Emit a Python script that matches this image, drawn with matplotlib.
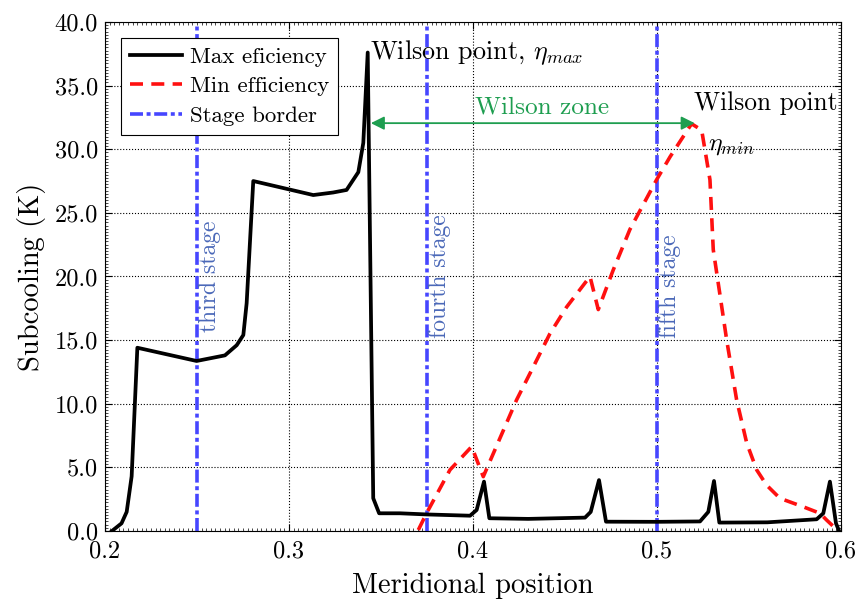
import matplotlib
matplotlib.use("Agg")
import matplotlib.pyplot as plt
from matplotlib.ticker import MultipleLocator, FormatStrFormatter

# ---- data ----
max_x = [0.2038, 0.2090, 0.2118, 0.2145, 0.2176, 0.2498, 0.2652, 0.2716, 0.2752, 0.2770,
         0.2806, 0.3132, 0.3240, 0.3313, 0.3377, 0.3404, 0.3428, 0.3458, 0.3490, 0.3603,
         0.3748, 0.3984, 0.4020, 0.4060, 0.4089, 0.4300, 0.4609, 0.4640, 0.4685, 0.4723,
         0.5000, 0.5234, 0.5279, 0.5310, 0.5339, 0.5600, 0.5868, 0.5904, 0.5940, 0.5973, 0.5990]
max_y = [0.0, 0.6, 1.5, 4.3, 14.4, 13.36, 13.8, 14.6, 15.4, 17.9,
         27.5, 26.4, 26.6, 26.8, 28.2, 30.5, 37.6, 2.57, 1.39, 1.39,
         1.3, 1.2, 1.65, 3.88, 1.0, 0.95, 1.05, 1.5, 4.0, 0.73,
         0.72, 0.75, 1.5, 3.93, 0.66, 0.68, 0.92, 1.39, 3.88, 0.6, 0.0]

min_x = [0.3703, 0.3748, 0.3875, 0.3993, 0.4056, 0.4138, 0.4237, 0.4328, 0.4418, 0.4509,
         0.4636, 0.4681, 0.4762, 0.4853, 0.4998, 0.5071, 0.5188, 0.5243, 0.5288, 0.5306,
         0.5379, 0.5433, 0.5488, 0.5542, 0.5596, 0.5668, 0.5795, 0.5886, 0.5922, 0.5985]
min_y = [0.08, 1.4, 4.8, 6.63, 4.27, 7.0, 10.3, 12.9, 15.5, 17.6,
         20.0, 17.4, 20.5, 23.7, 27.6, 29.4, 32.0, 31.5, 27.6, 22.1,
         15.0, 10.3, 6.9, 4.8, 3.6, 2.57, 1.9, 1.39, 0.86, 0.0]

stage_x = [0.25, 0.375, 0.5]
stage_labels = ["third stage", "fourth stage", "fifth stage"]

wilson_max = (0.3428, 37.6)
wilson_min = (0.5207, 32.0)

plt.rcParams['font.family'] = ['cmr10', 'DejaVu Serif']
plt.rcParams['mathtext.fontset'] = 'cm'
plt.rcParams['axes.unicode_minus'] = False

fig = plt.figure(figsize=(8.59, 6.04), dpi=100)
ax = fig.add_axes([0.1222, 0.1209, 0.8568, 0.8427])

ax.plot(max_x, max_y, color='black', lw=2.7, label='Max eficiency', zorder=4)
ax.plot(min_x, min_y, color='#ff1010', lw=2.6, ls=(0, (3.6, 2.3)), label='Min efficiency', zorder=3)
for i, sx in enumerate(stage_x):
    ax.axvline(sx, color='#4646ff', lw=2.6, ls=(0, (3.6, 1.0, 1.1, 1.0)),
               label='Stage border' if i == 0 else None, zorder=2)

label_y = [15.6, 15.2, 15.2]
for sx, lab, ly in zip(stage_x, stage_labels, label_y):
    ax.text(sx + 0.0008, ly, lab, rotation=90, color='#4a68b8', fontsize=17,
            ha='left', va='bottom')

ax.text(wilson_max[0] + 0.0012, wilson_max[1], r'Wilson point, $\eta_{max}$', fontsize=18.8,
        ha='left', va='center')
ax.text(wilson_min[0] - 0.0005, 33.6, 'Wilson point', fontsize=18.3, ha='left', va='center')
ax.text(0.5275, 30.3, r'$\eta_{min}$', fontsize=18.5, ha='left', va='center')

ax.annotate('', xy=(0.3445, 32.05), xytext=(0.5205, 32.05),
            arrowprops=dict(arrowstyle='<|-|>', color='#1e9e50', lw=1.3,
                            mutation_scale=20, shrinkA=0, shrinkB=0))
ax.text(0.4375, 33.3, 'Wilson zone', color='#1e9e50', fontsize=18.2, ha='center', va='center')

ax.set_xlim(0.2, 0.6)
ax.set_ylim(0, 40)
ax.xaxis.set_major_locator(MultipleLocator(0.1))
ax.xaxis.set_minor_locator(MultipleLocator(0.0025))
ax.yaxis.set_major_locator(MultipleLocator(5))
ax.yaxis.set_minor_locator(MultipleLocator(0.25))
ax.yaxis.set_major_formatter(FormatStrFormatter('%.1f'))
ax.xaxis.set_major_formatter(FormatStrFormatter('%.1f'))
ax.tick_params(which='both', direction='in', top=True, right=True, labelsize=17.6)
ax.tick_params(which='major', length=5, width=0.8)
ax.tick_params(which='minor', length=2.5, width=0.5)
ax.tick_params(axis='x', which='major', pad=7)
ax.tick_params(axis='y', which='major', pad=5)
ax.grid(True, which='major', ls=':', color='black', lw=0.8)
for s in ax.spines.values():
    s.set_linewidth(0.8)

ax.set_xlabel('Meridional position', fontsize=20.5, labelpad=7)
ax.set_ylabel('Subcooling (K)', fontsize=20.5, labelpad=6)

leg = ax.legend(loc='upper left', fontsize=16.5, fancybox=False, edgecolor='black',
                framealpha=1, handlelength=2.3, borderaxespad=0.7, labelspacing=0.42,
                borderpad=0.38, handletextpad=0.35)
leg.get_frame().set_linewidth(0.8)

fig.savefig('out.png', dpi=100)
